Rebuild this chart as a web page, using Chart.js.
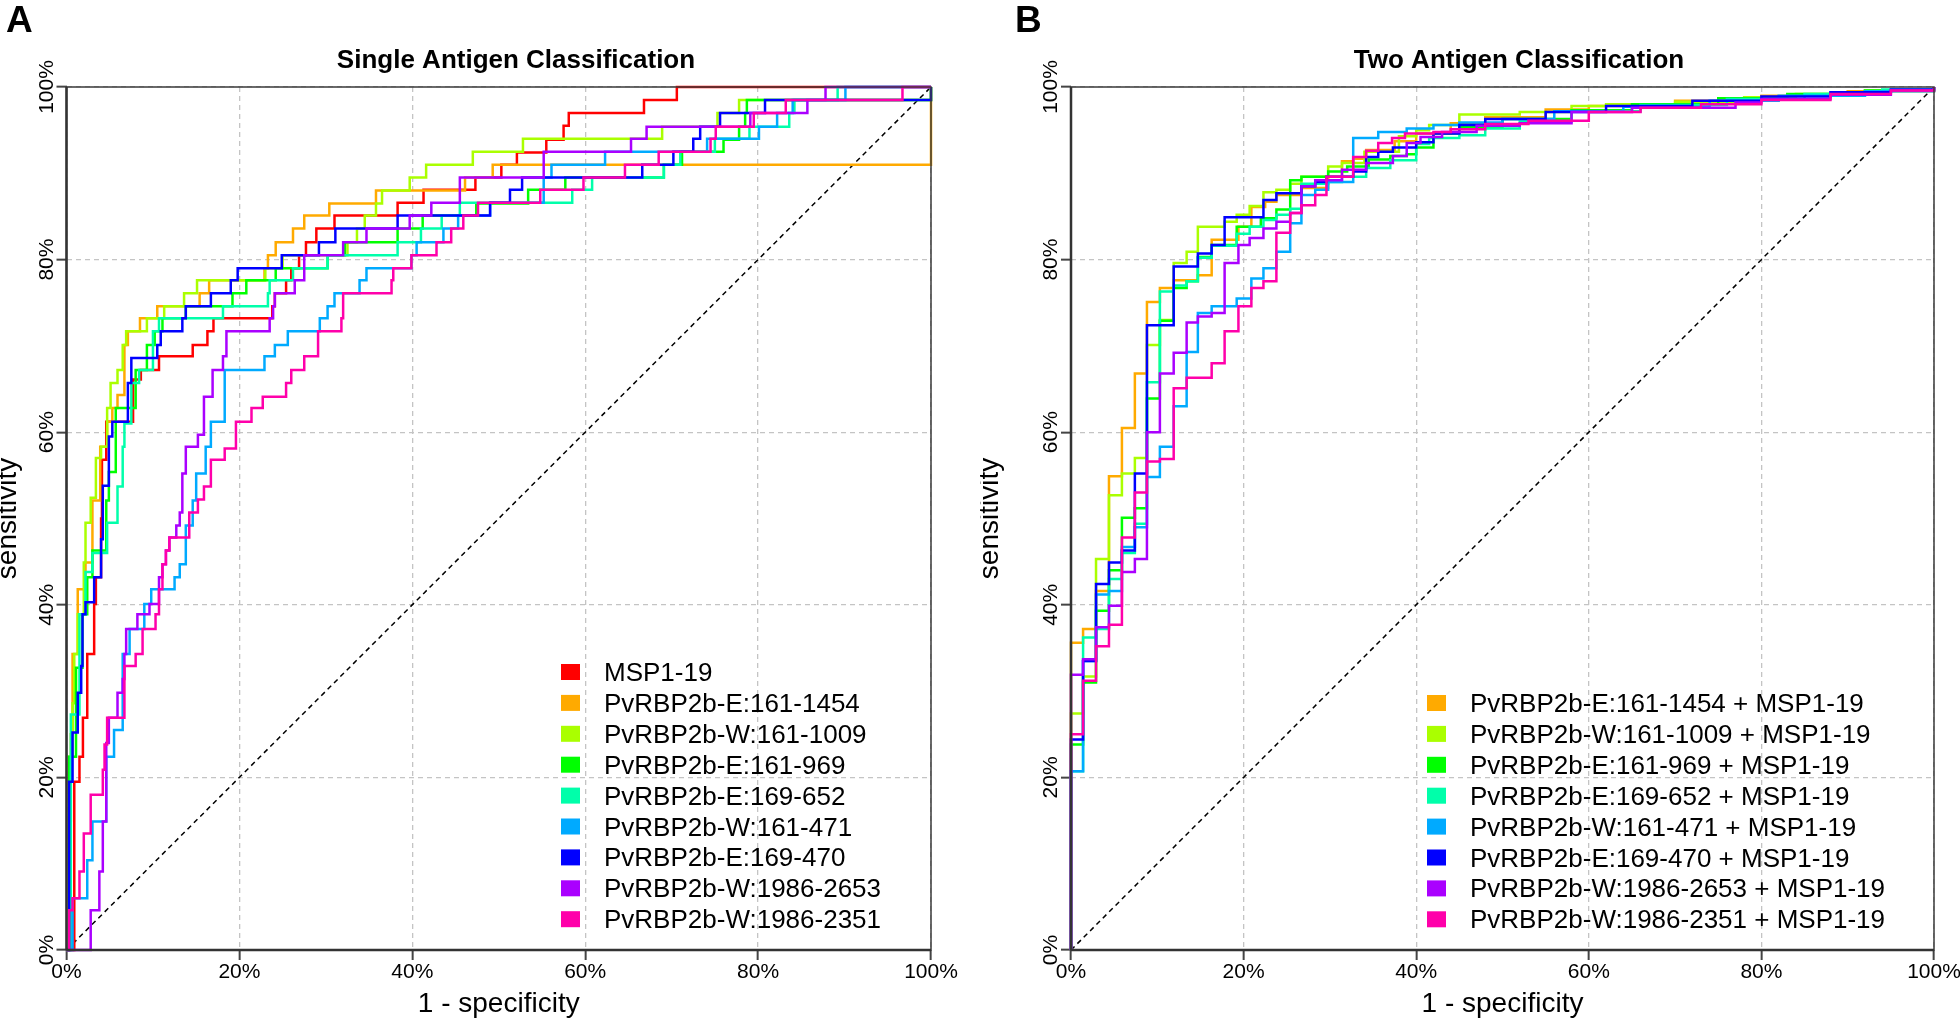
<!DOCTYPE html>
<html>
<head>
<meta charset="utf-8">
<title>Single and Two Antigen Classification</title>
<script src="https://cdn.jsdelivr.net/npm/chart.js@4.4.1/dist/chart.umd.min.js"></script>
<style>
    html, body { margin: 0; padding: 0; background: #ffffff; }
    #wrap { position: relative; width: 1960px; height: 1025px; overflow: hidden; }
    #wrap canvas { position: absolute; top: 0; }
</style>
</head>
<body>
<div id="wrap">
    <canvas id="panelA" width="980" height="1025" style="left:0px"></canvas>
    <canvas id="panelB" width="980" height="1025" style="left:980px"></canvas>
</div>
<script>
// axis ticks (percent) on both axes
var tickValues = [0, 20, 40, 60, 80, 100];

// chance line
var diagX = [0, 100];
var diagY = [0, 100];

// R rainbow(9)
var rainbowColors = ['#FF0000', '#FFAA00', '#AAFF00', '#00FF00', '#00FFAA', '#00AAFF', '#0000FF', '#AA00FF', '#FF00AA'];

// ---------- Panel A: single antigen (x = 1 - specificity %, y = sensitivity %) ----------
var singleLabels = ['MSP1-19', 'PvRBP2b-E:161-1454', 'PvRBP2b-W:161-1009', 'PvRBP2b-E:161-969',
    'PvRBP2b-E:169-652', 'PvRBP2b-W:161-471', 'PvRBP2b-E:169-470', 'PvRBP2b-W:1986-2653', 'PvRBP2b-W:1986-2351'];

var a_msp_fpr = [0, 0.9, 1.5, 1.9, 2.4, 3.2, 3.4, 4.0, 4.1, 4.6, 7.7, 8.6, 10.7, 14.6, 16.3, 17.0, 23.8, 24.1, 25.4, 26.0, 26.9, 27.7, 28.9, 31.0, 38.3, 41.3, 47.3, 50.3, 52.1, 55.5, 57.5, 58.1, 66.8, 70.6, 100];
var a_msp_tpr = [0, 19.5, 22.4, 26.9, 34.3, 40.1, 43.2, 50.0, 56.8, 61.2, 66.1, 67.2, 68.8, 70.1, 71.7, 73.2, 74.6, 76.1, 77.6, 79.0, 80.5, 82.0, 83.6, 85.1, 86.6, 88.1, 89.5, 91.0, 92.4, 93.9, 95.5, 97.0, 98.5, 100, 100];

var a_e1454_fpr = [0, 0.3, 0.5, 0.7, 1.3, 2.2, 3.0, 3.9, 4.7, 5.3, 5.9, 6.7, 7.1, 8.5, 10.5, 15.4, 16.5, 22.9, 23.3, 24.2, 26.2, 27.5, 30.4, 35.8, 46.1, 49.3, 100, 100];
var a_e1454_tpr = [0, 15.0, 25.0, 34.3, 41.8, 44.9, 52.1, 58.3, 61.2, 62.8, 64.3, 70.1, 71.7, 73.2, 74.6, 76.1, 77.6, 79.0, 80.5, 82.0, 83.6, 85.1, 86.5, 88.0, 89.5, 91.0, 91.0, 100];

var a_w1009_fpr = [0, 0.3, 0.7, 0.9, 1.3, 2.0, 2.2, 2.8, 3.4, 4.0, 4.7, 5.1, 5.9, 6.5, 6.9, 9.3, 11.3, 13.6, 15.1, 23.0, 25.0, 32.5, 33.6, 34.5, 35.8, 36.5, 39.7, 41.6, 47.0, 52.8, 68.9, 75.3, 77.8, 100, 100];
var a_w1009_tpr = [0, 22.4, 28.6, 34.3, 38.9, 44.9, 49.5, 52.4, 57.0, 58.3, 62.8, 65.7, 67.2, 70.1, 71.7, 73.2, 74.6, 76.1, 77.6, 79.0, 80.5, 82.0, 83.6, 85.1, 86.5, 88.0, 89.5, 91.0, 92.5, 94.0, 95.4, 97.0, 98.5, 98.5, 100];

var a_e969_fpr = [0, 0.3, 1.1, 1.85, 2.4, 3.0, 4.6, 4.9, 5.7, 8.0, 9.3, 10.2, 11.1, 13.8, 19.2, 20.8, 24.2, 30.2, 32.2, 38.3, 41.2, 47.4, 53.4, 57.7, 69.1, 71.2, 76.0, 77.8, 78.5, 78.7, 100, 100];
var a_e969_tpr = [0, 22.4, 32.7, 38.9, 43.2, 46.3, 52.1, 55.4, 62.8, 67.2, 70.1, 71.7, 73.2, 74.6, 76.1, 77.6, 79.0, 80.5, 82.0, 83.6, 85.1, 86.5, 88.1, 89.5, 91.0, 92.5, 93.9, 95.4, 97.0, 98.5, 98.5, 100];

var a_e652_fpr = [0, 0.5, 1.5, 2.2, 3.0, 4.7, 5.9, 6.5, 6.7, 7.5, 8.4, 10.0, 10.7, 18.1, 23.3, 23.5, 26.2, 30.2, 38.3, 41.0, 43.4, 45.5, 58.5, 60.8, 69.1, 71.0, 75.0, 79.0, 83.6, 84.2, 89.2, 100];
var a_e652_tpr = [0, 27.3, 38.9, 43.8, 46.0, 49.5, 53.7, 58.3, 61.0, 65.7, 67.2, 71.7, 73.2, 74.6, 76.1, 77.6, 79.0, 80.5, 82.0, 83.6, 85.1, 86.6, 88.1, 89.5, 91.0, 92.5, 94.0, 95.4, 97.0, 98.5, 100, 100];

var a_w471_fpr = [0, 0.7, 2.4, 3.0, 4.6, 5.5, 6.5, 7.3, 9.0, 9.8, 12.5, 13.1, 13.8, 14.6, 15.0, 16.1, 16.7, 18.3, 22.9, 24.1, 25.6, 29.3, 30.2, 31.0, 33.9, 34.7, 39.9, 40.5, 43.6, 45.3, 49.0, 55.2, 56.1, 62.3, 74.1, 80.1, 82.2, 84.0, 90.1, 100];
var a_w471_tpr = [0, 6.0, 10.4, 14.9, 22.4, 25.5, 34.3, 37.2, 40.1, 41.8, 43.2, 44.7, 49.2, 52.1, 55.2, 58.3, 61.2, 67.2, 68.8, 70.1, 71.7, 73.2, 74.6, 76.1, 77.6, 79.0, 80.5, 82.0, 83.6, 85.1, 86.6, 89.5, 91.0, 92.5, 94.0, 95.4, 97.0, 98.5, 100, 100];

var a_e470_fpr = [0, 0.3, 0.7, 1.3, 1.7, 1.85, 2.2, 3.2, 4.0, 4.2, 4.9, 5.3, 7.1, 7.5, 10.5, 10.9, 13.4, 13.8, 16.7, 19.0, 19.8, 24.9, 29.2, 31.1, 38.3, 49.0, 51.3, 52.7, 66.6, 70.2, 72.5, 73.3, 75.6, 80.8, 100, 100];
var a_e470_tpr = [0, 19.5, 25.2, 29.8, 32.9, 38.9, 40.3, 43.2, 47.6, 53.8, 59.5, 61.2, 65.7, 68.6, 70.1, 71.7, 73.2, 74.6, 76.1, 77.6, 79.0, 80.5, 82.0, 83.6, 85.1, 86.6, 88.1, 89.5, 91.0, 92.5, 94.0, 95.4, 97.0, 98.5, 98.5, 100];

var a_w2653_fpr = [0, 2.5, 2.8, 3.8, 4.2, 4.6, 4.9, 5.9, 6.5, 6.7, 6.9, 8.2, 9.6, 10.7, 11.1, 11.5, 11.9, 12.7, 13.1, 13.4, 13.8, 15.2, 15.9, 16.9, 18.1, 18.5, 23.5, 23.9, 24.1, 26.4, 27.5, 32.0, 34.7, 39.7, 42.2, 45.5, 55.2, 65.3, 67.1, 79.1, 85.7, 87.8, 100];
var a_w2653_tpr = [0, 0, 4.6, 9.1, 14.9, 24.0, 26.9, 29.8, 31.4, 34.3, 37.2, 38.9, 40.1, 43.2, 44.7, 46.3, 47.8, 49.2, 50.7, 55.2, 58.3, 59.7, 64.1, 67.2, 68.8, 71.7, 73.2, 74.6, 76.1, 77.6, 80.5, 82.0, 83.6, 85.1, 86.6, 89.5, 92.5, 94.0, 95.4, 97.0, 98.5, 100, 100];

var a_w2351_fpr = [0, 0.3, 0.7, 1.5, 2.0, 2.8, 4.2, 4.4, 4.7, 6.7, 8.0, 8.8, 10.3, 10.7, 11.1, 11.5, 11.9, 14.2, 15.2, 15.9, 16.7, 18.3, 19.6, 21.4, 22.7, 25.4, 26.0, 27.5, 29.1, 31.8, 32.0, 37.6, 37.8, 39.9, 42.8, 44.5, 45.9, 47.6, 54.8, 59.8, 64.6, 68.5, 74.5, 75.1, 79.5, 83.2, 96.7, 100];
var a_w2351_tpr = [0, 4.6, 6.0, 9.1, 13.5, 18.0, 20.9, 23.8, 26.9, 32.9, 34.3, 37.2, 38.9, 41.8, 44.7, 46.3, 47.8, 50.7, 52.2, 53.7, 56.8, 58.1, 61.2, 62.8, 64.1, 65.7, 67.2, 68.8, 71.7, 73.2, 76.1, 77.6, 79.0, 80.5, 82.0, 83.6, 85.1, 86.6, 88.1, 89.5, 91.0, 92.5, 94.0, 95.4, 97.0, 98.5, 100, 100];

// ---------- Panel B: two antigens (each + MSP1-19) ----------
var twoLabels = ['PvRBP2b-E:161-1454 + MSP1-19', 'PvRBP2b-W:161-1009 + MSP1-19', 'PvRBP2b-E:161-969 + MSP1-19',
    'PvRBP2b-E:169-652 + MSP1-19', 'PvRBP2b-W:161-471 + MSP1-19', 'PvRBP2b-E:169-470 + MSP1-19',
    'PvRBP2b-W:1986-2653 + MSP1-19', 'PvRBP2b-W:1986-2351 + MSP1-19'];

var b_e1454_fpr = [0, 0, 1.4, 2.9, 4.4, 5.9, 7.4, 8.8, 10.3, 11.9, 14.7, 16.3, 19.4, 20.9, 22.5, 23.8, 26.7, 29.8, 31.4, 32.7, 34.2, 37.5, 40.0, 44.0, 48.0, 55.0, 60.0, 70.0, 80.0, 90.0, 100];
var b_e1454_tpr = [0, 35.6, 37.2, 41.6, 54.9, 60.5, 66.8, 75.1, 76.7, 77.6, 78.2, 82.3, 83.8, 86.1, 86.7, 87.5, 88.3, 89.6, 91.4, 91.7, 92.7, 93.7, 94.6, 95.8, 96.5, 97.4, 97.8, 98.4, 99.0, 99.5, 100];

var b_w1009_fpr = [0, 0, 1.4, 2.9, 4.4, 5.9, 7.4, 8.8, 10.3, 11.9, 13.4, 14.7, 17.8, 19.2, 20.7, 22.3, 23.8, 25.4, 26.7, 29.8, 31.4, 34.0, 38.0, 40.0, 41.5, 45.0, 52.0, 58.0, 62.0, 70.0, 78.0, 84.0, 92.0, 100];
var b_w1009_tpr = [0, 27.4, 31.7, 45.3, 52.7, 55.2, 57.0, 70.1, 73.0, 79.6, 80.9, 83.8, 84.4, 85.2, 86.2, 87.8, 88.1, 88.8, 89.6, 90.8, 91.2, 92.5, 94.3, 95.0, 95.6, 96.8, 97.1, 97.8, 98.0, 98.3, 98.8, 99.2, 99.6, 100];

var b_e969_fpr = [0, 0, 1.4, 2.9, 4.4, 5.9, 7.4, 8.8, 10.3, 11.9, 13.4, 14.7, 16.3, 19.2, 22.0, 23.8, 25.4, 26.7, 29.8, 32.0, 34.5, 37.0, 38.9, 40.0, 42.0, 45.0, 50.0, 58.0, 65.0, 75.0, 83.0, 92.0, 100];
var b_e969_tpr = [0, 23.8, 31.0, 39.3, 44.0, 50.1, 51.2, 63.9, 72.9, 76.7, 77.5, 80.3, 81.7, 83.8, 84.8, 85.8, 89.2, 89.6, 90.2, 90.8, 91.6, 92.0, 92.2, 93.0, 94.6, 95.4, 96.3, 97.3, 98.0, 98.7, 99.2, 99.6, 100];

var b_e652_fpr = [0, 0, 1.4, 2.9, 4.4, 5.9, 7.4, 8.8, 10.3, 11.9, 13.4, 14.7, 16.3, 19.2, 20.7, 22.3, 23.8, 25.4, 26.7, 29.8, 31.4, 34.2, 37.0, 40.0, 41.5, 45.0, 48.0, 52.0, 58.0, 66.0, 76.0, 85.0, 94.0, 100];
var b_e652_tpr = [0, 20.7, 36.2, 37.2, 43.0, 46.0, 49.4, 65.8, 76.3, 77.0, 77.5, 80.2, 81.6, 83.0, 83.8, 84.6, 85.2, 85.9, 88.8, 89.0, 89.6, 90.6, 91.5, 93.4, 94.1, 94.4, 95.2, 96.0, 97.2, 97.9, 98.6, 99.2, 99.7, 100];

var b_w471_fpr = [0, 0, 1.4, 2.9, 4.4, 5.9, 7.4, 8.8, 10.3, 11.9, 13.4, 14.7, 16.3, 19.2, 20.9, 22.3, 23.8, 25.4, 26.7, 28.3, 29.8, 32.7, 35.6, 38.9, 42.0, 45.0, 50.0, 56.0, 64.0, 74.0, 82.0, 92.0, 100];
var b_w471_tpr = [0, 20.7, 33.5, 41.2, 41.6, 46.7, 49.0, 54.8, 58.3, 63.0, 69.3, 73.8, 74.6, 75.5, 77.8, 79.0, 80.9, 84.2, 87.5, 88.1, 89.0, 94.1, 94.8, 95.2, 95.6, 95.9, 96.3, 97.2, 97.7, 98.4, 99.0, 99.5, 100];

var b_e470_fpr = [0, 0, 1.4, 2.9, 4.4, 5.9, 7.4, 8.8, 11.9, 14.7, 16.3, 17.8, 22.3, 23.8, 26.7, 28.3, 29.6, 32.7, 34.2, 35.6, 37.3, 40.0, 42.0, 45.0, 48.0, 55.0, 62.0, 72.0, 80.0, 88.0, 95.0, 100];
var b_e470_tpr = [0, 24.4, 33.5, 42.4, 44.9, 46.3, 55.2, 72.4, 79.2, 80.7, 81.7, 84.9, 86.9, 87.7, 88.5, 89.0, 89.6, 90.2, 91.9, 92.5, 93.0, 93.6, 94.6, 95.6, 96.3, 97.1, 97.8, 98.4, 98.9, 99.4, 99.7, 100];

var b_w2653_fpr = [0, 0, 1.4, 2.9, 4.4, 5.9, 7.4, 8.8, 10.3, 11.9, 13.4, 14.7, 16.3, 17.8, 19.4, 20.7, 22.3, 23.8, 25.4, 26.7, 28.3, 31.4, 34.2, 37.3, 38.9, 40.5, 43.0, 47.0, 52.0, 58.0, 65.0, 77.0, 80.0, 88.0, 95.0, 100];
var b_w2653_tpr = [0, 31.9, 33.7, 37.4, 39.9, 43.8, 45.3, 60.0, 66.8, 69.2, 72.7, 73.4, 73.8, 79.6, 81.7, 82.5, 83.6, 84.4, 85.4, 88.5, 89.2, 90.4, 91.2, 92.0, 93.5, 94.2, 94.8, 95.5, 95.8, 97.1, 97.6, 98.2, 98.6, 99.1, 99.6, 100];

var b_w2351_fpr = [0, 0, 1.4, 2.9, 4.4, 5.9, 7.4, 8.8, 10.3, 11.9, 13.4, 16.3, 17.8, 19.4, 20.9, 22.3, 23.8, 25.4, 26.7, 28.3, 29.6, 32.7, 34.2, 35.6, 37.2, 38.7, 42.0, 44.0, 48.0, 53.0, 60.0, 66.0, 73.0, 80.0, 88.0, 95.0, 100];
var b_w2351_tpr = [0, 25.0, 31.2, 35.2, 37.7, 47.8, 53.0, 56.6, 56.9, 65.1, 66.3, 68.0, 71.7, 74.6, 76.7, 77.5, 83.1, 85.4, 86.3, 87.5, 89.6, 91.9, 92.6, 93.5, 94.1, 94.6, 94.8, 95.1, 95.7, 96.1, 97.1, 97.6, 98.0, 98.5, 99.2, 99.6, 100];

var singleCurves = [
    [a_msp_fpr, a_msp_tpr], [a_e1454_fpr, a_e1454_tpr], [a_w1009_fpr, a_w1009_tpr],
    [a_e969_fpr, a_e969_tpr], [a_e652_fpr, a_e652_tpr], [a_w471_fpr, a_w471_tpr],
    [a_e470_fpr, a_e470_tpr], [a_w2653_fpr, a_w2653_tpr], [a_w2351_fpr, a_w2351_tpr]
];
var twoCurves = [
    [b_e1454_fpr, b_e1454_tpr], [b_w1009_fpr, b_w1009_tpr], [b_e969_fpr, b_e969_tpr],
    [b_e652_fpr, b_e652_tpr], [b_w471_fpr, b_w471_tpr], [b_e470_fpr, b_e470_tpr],
    [b_w2653_fpr, b_w2653_tpr], [b_w2351_fpr, b_w2351_tpr]
];

var FONT = '"Liberation Sans", Arial, Helvetica, sans-serif';

function buildSets(curves, labels, colors) {
    var sets = curves.map(function (c, i) {
        return {
            label: labels[i],
            data: c[0].map(function (x, k) { return { x: x, y: c[1][k] }; }),
            borderColor: colors[i],
            backgroundColor: colors[i],
            borderWidth: 2.5,
            pointRadius: 0,
            showLine: true,
            stepped: 'before',
            fill: false,
            clip: 4,
            order: curves.length - i   // later curves on top, like R
        };
    });
    sets.push({
        label: '',
        data: diagX.map(function (x, k) { return { x: x, y: diagY[k] }; }),
        borderColor: '#000000',
        borderWidth: 1.5,
        borderDash: [5, 4],
        pointRadius: 0,
        showLine: true,
        fill: false,
        order: 99
    });
    return sets;
}

// draws frame, tick labels, titles and the legend
var panelDecor = {
    id: 'panelDecor',
    afterDraw: function (chart, args, o) {
        var ctx = chart.ctx;
        var a = chart.chartArea;
        var xs = chart.scales.x, ys = chart.scales.y;
        ctx.save();

        ctx.strokeStyle = '#3a3a3a';
        ctx.lineWidth = 1.5;
        ctx.strokeRect(a.left, a.top, a.right - a.left, a.bottom - a.top);
        ctx.lineWidth = 2.5;
        ctx.strokeStyle = '#333333';
        ctx.beginPath();
        ctx.moveTo(a.left, a.bottom); ctx.lineTo(a.right, a.bottom);
        ctx.moveTo(a.left, a.top); ctx.lineTo(a.left, a.bottom);
        ctx.stroke();

        ctx.fillStyle = '#000000';
        ctx.font = '21px ' + FONT;
        ctx.textAlign = 'center';
        ctx.textBaseline = 'alphabetic';
        tickValues.forEach(function (v) {
            ctx.fillText(v + '%', xs.getPixelForValue(v), a.bottom + 28);
        });
        tickValues.forEach(function (v) {
            ctx.save();
            ctx.translate(a.left - 14, ys.getPixelForValue(v));
            ctx.rotate(-Math.PI / 2);
            ctx.fillText(v + '%', 0, 0);
            ctx.restore();
        });

        // axis titles
        ctx.font = '28px ' + FONT;
        ctx.fillText('1 - specificity', (a.left + a.right) / 2, a.bottom + 62);
        ctx.save();
        ctx.translate(o.yTitleX, (a.top + a.bottom) / 2);
        ctx.rotate(-Math.PI / 2);
        ctx.fillText('sensitivity', 0, 0);
        ctx.restore();

        // main title and panel letter
        ctx.font = 'bold 26px ' + FONT;
        ctx.fillText(o.title, o.titleX, 68);
        ctx.font = 'bold 37px ' + FONT;
        ctx.textAlign = 'left';
        ctx.fillText(o.letter, o.letterX, 32);

        // legend
        ctx.font = '26px ' + FONT;
        o.labels.forEach(function (lab, i) {
            var cy = o.legendY + i * 30.9;
            ctx.fillStyle = o.colors[i];
            ctx.fillRect(o.legendX, cy - 8, 19, 16);
            ctx.fillStyle = '#000000';
            ctx.fillText(lab, o.legendTextX, cy + 9);
        });
        ctx.restore();
    }
};

function axisOptions(fitFn) {
    return {
        type: 'linear',
        min: 0,
        max: 100,
        afterBuildTicks: function (scale) {
            scale.ticks = tickValues.map(function (v) { return { value: v }; });
        },
        ticks: { display: false },
        grid: {
            color: '#c4c4c4',
            lineWidth: 1.3,
            drawTicks: true,
            tickLength: 10,
            tickColor: '#444444',
            tickWidth: 2,
            tickBorderDash: []
        },
        border: { display: false, dash: [5, 4] },
        afterFit: fitFn
    };
}

function makePanel(id, curves, labels, colors, deco) {
    return new Chart(document.getElementById(id), {
        type: 'scatter',
        data: { datasets: buildSets(curves, labels, colors) },
        options: {
            responsive: false,
            animation: false,
            devicePixelRatio: 1,
            events: [],
            layout: { padding: { left: 0, top: 87, right: deco.padRight, bottom: 0 } },
            plugins: {
                legend: { display: false },
                tooltip: { enabled: false },
                title: { display: false },
                panelDecor: {
                    title: deco.title, titleX: deco.titleX, letter: deco.letter, letterX: deco.letterX,
                    yTitleX: deco.yTitleX, labels: labels, colors: colors,
                    legendX: deco.legendX, legendTextX: deco.legendTextX, legendY: deco.legendY
                }
            },
            scales: {
                x: axisOptions(function (s) { s.height = 75; }),
                y: axisOptions(function (s) { s.width = deco.axisWidth; })
            }
        },
        plugins: [panelDecor]
    });
}

makePanel('panelA', singleCurves, singleLabels, rainbowColors, {
    padRight: 49, axisWidth: 66.5,
    title: 'Single Antigen Classification', titleX: 516,
    letter: 'A', letterX: 6, yTitleX: 16,
    legendX: 561, legendTextX: 604, legendY: 672
});

makePanel('panelB', twoCurves, twoLabels, rainbowColors.slice(1), {
    padRight: 26, axisWidth: 91,
    title: 'Two Antigen Classification', titleX: 539,
    letter: 'B', letterX: 35, yTitleX: 18,
    legendX: 447, legendTextX: 490, legendY: 703
});
</script>
</body>
</html>
